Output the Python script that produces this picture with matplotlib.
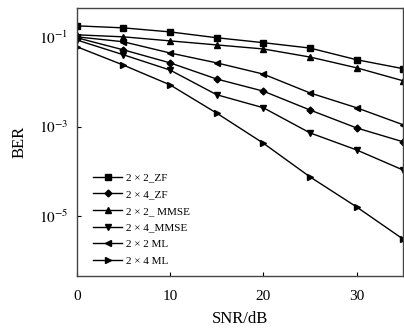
import numpy as np
import matplotlib
matplotlib.use('Agg')
import matplotlib.pyplot as plt

plt.rcParams['font.family'] = ['Liberation Serif', 'DejaVu Serif']
plt.rcParams['mathtext.fontset'] = 'stix'

snr = [0, 5, 10, 15, 20, 25, 30, 35]

# log10(BER)
zf_22 = [-0.755, -0.80, -0.89, -1.02, -1.13, -1.25, -1.51, -1.71]
zf_24 = [-1.02, -1.29, -1.58, -1.94, -2.21, -2.63, -3.03, -3.34]
mmse_22 = [-0.955, -1.0, -1.09, -1.18, -1.27, -1.45, -1.69, -1.98]
mmse_24 = [-1.07, -1.40, -1.74, -2.29, -2.58, -3.14, -3.52, -3.97]
ml_22 = [-1.0, -1.11, -1.36, -1.58, -1.83, -2.25, -2.58, -2.96]
ml_24 = [-1.22, -1.63, -2.07, -2.70, -3.37, -4.12, -4.79, -5.51]

labels = ['2 × 2_ZF', '2 × 4_ZF', '2 × 2_ MMSE', '2 × 4_MMSE', '2 × 2 ML', '2 × 4 ML']
series = [zf_22, zf_24, mmse_22, mmse_24, ml_22, ml_24]
markers = ['s', 'D', '^', 'v', '<', '>']

fig = plt.figure(figsize=(4.04, 3.32), dpi=100)
ax = fig.add_axes([0.19, 0.169, 0.808, 0.807])

for vals, lab, m in zip(series, labels, markers):
    ms = 3.5 if m == 'D' else 4.5
    ax.semilogy(snr, 10 ** np.array(vals), color='black', lw=1.0, marker=m,
                ms=ms, label=lab)

ax.set_xlim(0, 35)
ax.set_ylim(4.7e-7, 0.44)
ax.set_xticks([0, 10, 20, 30])
ax.set_yticks([1e-1, 1e-3, 1e-5])
ax.set_yticklabels([r'$10^{-1}$', r'$10^{-3}$', r'$10^{-5}$'])
ax.minorticks_off()
ax.tick_params(direction='in', labelsize=11, length=3, width=0.8)
ax.tick_params(axis='x', pad=10)
ax.tick_params(axis='y', pad=6)
for s in ax.spines.values():
    s.set_linewidth(1.0)
    s.set_color('#444444')

ax.set_xlabel('SNR/dB', fontsize=12, labelpad=6)
ax.set_ylabel('BER', fontsize=12, labelpad=8)

ax.legend(loc='lower left', bbox_to_anchor=(0.02, 0.0), frameon=False,
          fontsize=8, handlelength=2.6, labelspacing=0.62, handletextpad=0.3)

fig.savefig('out.png', dpi=100)
